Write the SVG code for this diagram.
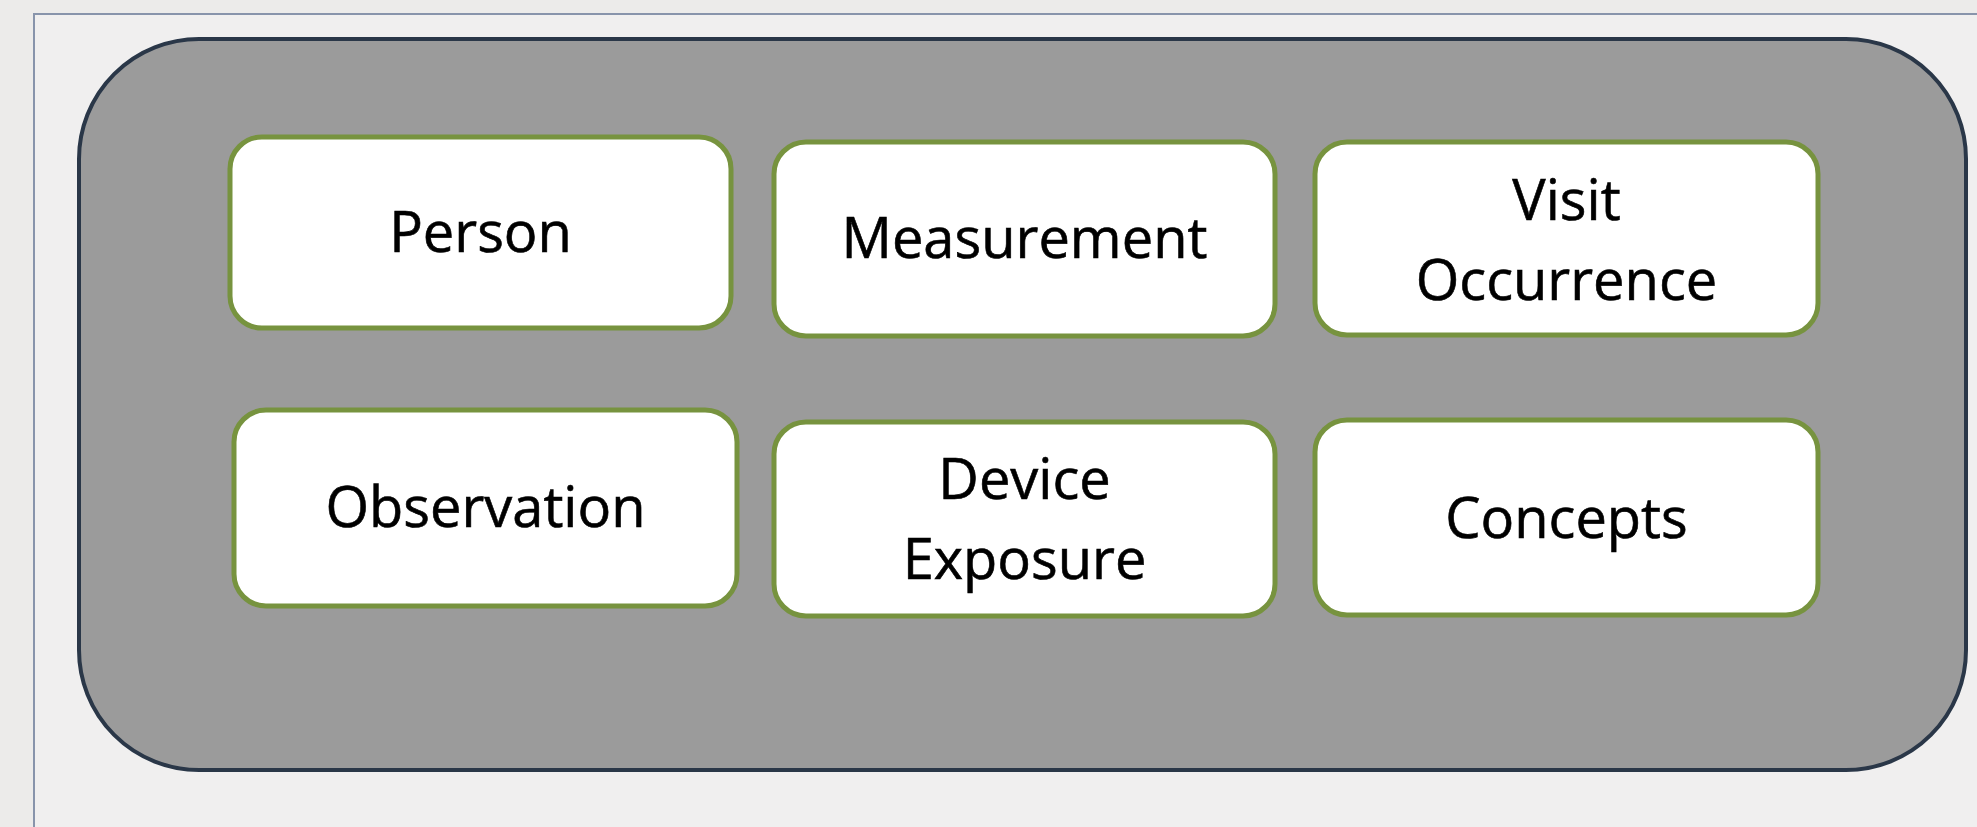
<svg xmlns="http://www.w3.org/2000/svg" width="1977" height="827" viewBox="0 0 1977 827">
<style>
.box{fill:#ffffff;stroke:#77933f;stroke-width:5}
.lbl{font-family:"Open Sans","Liberation Sans",sans-serif;font-size:56px;fill:#000000;stroke:#000000;stroke-width:0.6;text-anchor:middle}
</style>
<rect x="0" y="0" width="1977" height="827" fill="#ecebea"/>
<rect x="34" y="14" width="1960" height="830" fill="#f0efef" stroke="#8894ab" stroke-width="2"/>
<g id="container">
<rect x="79" y="39" width="1887" height="731" rx="120" ry="120" fill="#9b9b9b" stroke="#2a3748" stroke-width="4"/>
</g>
<g id="connectors"></g>
<g id="person">
<rect class="box" x="230" y="137" width="501" height="191" rx="32"/>
<text class="lbl" x="480.5" y="252">Person</text>
</g>
<g id="measurement">
<rect class="box" x="774" y="142" width="501" height="194" rx="32"/>
<text class="lbl" x="1024.5" y="258">Measurement</text>
</g>
<g id="visit-occurrence">
<rect class="box" x="1315" y="142" width="503" height="193" rx="32"/>
<text class="lbl" x="1566.5" y="220">Visit</text>
<text class="lbl" x="1566.5" y="300">Occurrence</text>
</g>
<g id="observation">
<rect class="box" x="234" y="410" width="503" height="196" rx="32"/>
<text class="lbl" x="485.5" y="527">Observation</text>
</g>
<g id="device-exposure">
<rect class="box" x="774" y="422" width="501" height="194" rx="32"/>
<text class="lbl" x="1024.5" y="499">Device</text>
<text class="lbl" x="1024.5" y="579">Exposure</text>
</g>
<g id="concepts">
<rect class="box" x="1315" y="420" width="503" height="195" rx="32"/>
<text class="lbl" x="1566.5" y="538">Concepts</text>
</g>
</svg>
